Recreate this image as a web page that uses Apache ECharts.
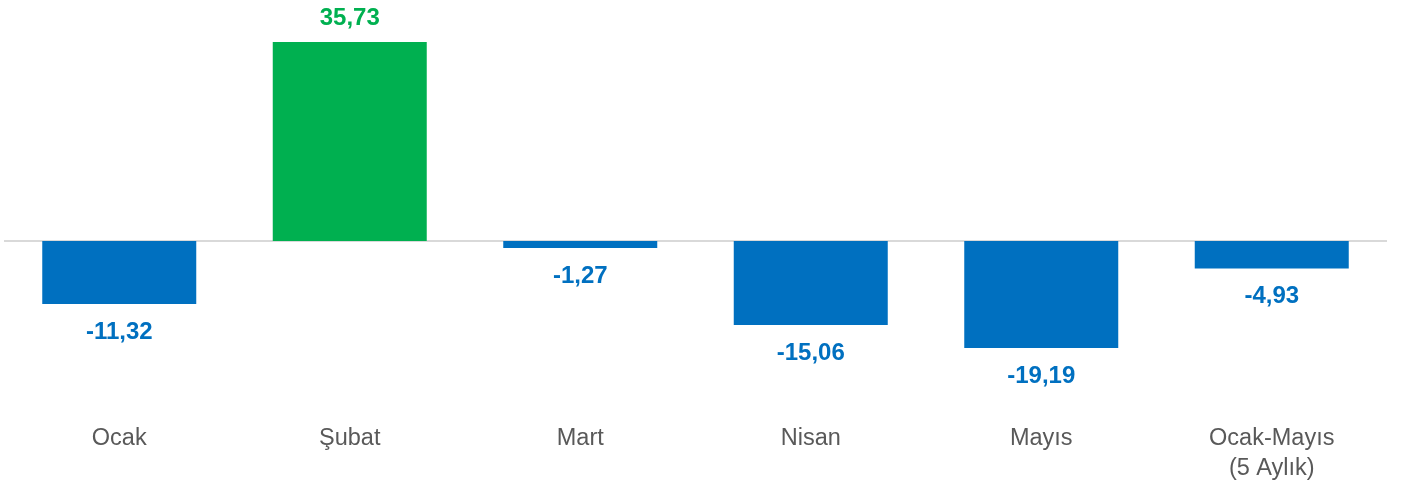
<!DOCTYPE html>
<html>
<head>
<meta charset="utf-8">
<script src="https://cdn.jsdelivr.net/npm/echarts@6/dist/echarts.min.js"></script>
<style>
html,body{margin:0;padding:0;background:#fff;}
#chart{width:1402px;height:485px;}
</style>
</head>
<body>
<div id="chart"></div>
<script>
const categories = ['Ocak', 'Şubat', 'Mart', 'Nisan', 'Mayıs', 'Ocak-Mayıs\n(5 Aylık)'];
const values = [-11.32, 35.73, -1.27, -15.06, -19.19, -4.93];
const POS_COLOR = '#00b050';
const NEG_COLOR = '#0070c0';

const chart = echarts.init(document.getElementById('chart'));
chart.setOption({
  animation: false,
  backgroundColor: '#ffffff',
  grid: { left: 4, right: 15, top: 18.2, bottom: 104.75 },
  xAxis: {
    type: 'category',
    data: categories,
    position: 'bottom',
    axisLine: { show: false, onZero: false },
    axisTick: { show: false },
    splitLine: { show: false },
    axisLabel: {
      margin: 44,
      color: '#595959',
      fontFamily: 'Liberation Sans, Arial, sans-serif',
      fontSize: 23.5,
      lineHeight: 29.5,
      interval: 0
    }
  },
  yAxis: {
    type: 'value',
    min: -25,
    max: 40,
    show: false,
    splitLine: { show: false }
  },
  series: [{
    type: 'bar',
    barWidth: 154,
    data: values.map(v => ({
      value: v,
      itemStyle: { color: v >= 0 ? POS_COLOR : NEG_COLOR },
      label: {
        show: true,
        position: v >= 0 ? 'top' : 'bottom',
        distance: v >= 0 ? 12 : 16,
        color: v >= 0 ? POS_COLOR : NEG_COLOR,
        fontFamily: 'Liberation Sans, Arial, sans-serif',
        fontWeight: 'bold',
        fontSize: 24,
        formatter: () => v.toFixed(2).replace('.', ',')
      }
    })),
    markLine: {
      silent: true,
      symbol: ['none', 'none'],
      label: { show: false },
      lineStyle: { color: '#d9d9d9', width: 2, type: 'solid' },
      data: [{ yAxis: 0 }],
      z: 1
    },
    z: 2
  }]
});
</script>
</body>
</html>
